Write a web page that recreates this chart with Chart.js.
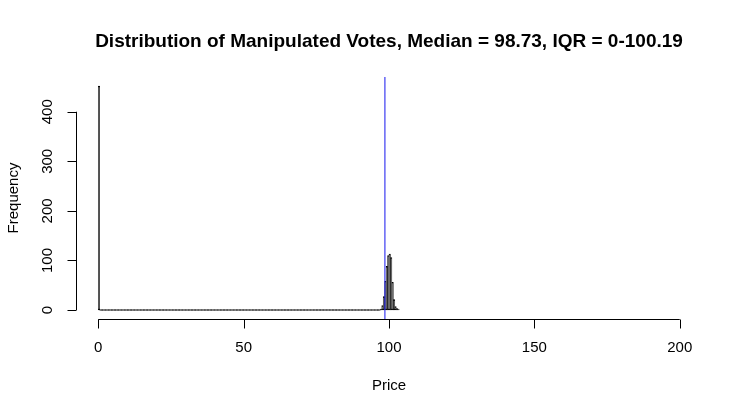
<!DOCTYPE html>
<html>
<head>
<meta charset="utf-8">
<script src="https://cdn.jsdelivr.net/npm/chart.js@4.4.1/dist/chart.umd.min.js"></script>
<style>
  html, body { margin: 0; padding: 0; background: #ffffff; }
  #wrap { width: 744px; height: 417px; }
</style>
</head>
<body>
<div id="wrap"><canvas id="histChart" width="744" height="417"></canvas></div>
<script>
// Histogram bins: width 0.5, first break at 0
const binWidth = 0.5;
const firstBreak = 0;

// Counts per bin (0-0.5, 0.5-1, ... 103-103.5)
const counts = [
  452, 0, 0, 0, 0, 0, 0, 0, 0, 0, 0, 0, 0, 0, 0, 0, 0, 0, 0, 0,
  0, 0, 0, 0, 0, 0, 0, 0, 0, 0, 0, 0, 0, 0, 0, 0, 0, 0, 0, 0,
  0, 0, 0, 0, 0, 0, 0, 0, 0, 0, 0, 0, 0, 0, 0, 0, 0, 0, 0, 0,
  0, 0, 0, 0, 0, 0, 0, 0, 0, 0, 0, 0, 0, 0, 0, 0, 0, 0, 0, 0,
  0, 0, 0, 0, 0, 0, 0, 0, 0, 0, 0, 0, 0, 0, 0, 0, 0, 0, 0, 0,
  0, 0, 0, 0, 0, 0, 0, 0, 0, 0, 0, 0, 0, 0, 0, 0, 0, 0, 0, 0,
  0, 0, 0, 0, 0, 0, 0, 0, 0, 0, 0, 0, 0, 0, 0, 0, 0, 0, 0, 0,
  0, 0, 0, 0, 0, 0, 0, 0, 0, 0, 0, 0, 0, 0, 0, 0, 0, 0, 0, 0,
  0, 0, 0, 0, 0, 0, 0, 0, 0, 0, 0, 0, 0, 0, 0, 0, 0, 0, 0, 0,
  0, 0, 0, 0, 0, 0, 0, 0, 0, 0, 0, 0, 0, 0, 1, 9, 27, 58, 88, 110,
  113, 106, 56, 21, 7, 3, 1
];

// Axis ticks
const xTicks = [0, 50, 100, 150, 200];
const yTicks = [0, 100, 200, 300, 400];

// Summary shown in the title and as the vertical line
const median = 98.73;
const iqrLow = 0;
const iqrHigh = 100.19;

const titleText = 'Distribution of Manipulated Votes, Median = ' + median + ', IQR = ' + iqrLow + '-' + iqrHigh;
const xLabel = 'Price';
const yLabel = 'Frequency';

// R style plot region: limits stretched by 4%
const xMin = 0, xMax = 200;
const yMax = Math.max(...counts);
const xPad = (xMax - xMin) * 0.04;
const yPad = yMax * 0.04;

// bin midpoints for the bars
const points = counts.map((c, i) => ({ x: firstBreak + binWidth * i + binWidth / 2, y: c }));

const FONT = '"Liberation Sans", Arial, Helvetica, sans-serif';

// Draws title, axes (R style), labels and the median line
const rDecor = {
    id: 'rDecor',
    afterDatasetsDraw(chart) {
        const ctx = chart.ctx;
        const area = chart.chartArea;
        const xs = chart.scales.x;
        const ys = chart.scales.y;
        ctx.save();

        // median line, like abline(v = median, col = 'blue')
        const mx = xs.getPixelForValue(median) - 0.4;
        ctx.strokeStyle = '#2b2bf0';
        ctx.lineWidth = 1.1;
        ctx.beginPath();
        ctx.moveTo(mx, area.top);
        ctx.lineTo(mx, area.bottom);
        ctx.stroke();

        ctx.strokeStyle = '#000000';
        ctx.fillStyle = '#000000';
        ctx.lineWidth = 1;

        // x axis
        const axY = Math.round(area.bottom) + 0.5;
        const x0 = xs.getPixelForValue(xTicks[0]);
        const x1 = xs.getPixelForValue(xTicks[xTicks.length - 1]);
        ctx.beginPath();
        ctx.moveTo(x0, axY);
        ctx.lineTo(x1, axY);
        xTicks.forEach(t => {
            const px = Math.round(xs.getPixelForValue(t)) + 0.5;
            ctx.moveTo(px, axY);
            ctx.lineTo(px, axY + 9);
        });
        ctx.stroke();

        ctx.font = '15px ' + FONT;
        ctx.textAlign = 'center';
        ctx.textBaseline = 'middle';
        xTicks.forEach(t => {
            ctx.fillText(String(t), xs.getPixelForValue(t), 348);
        });

        // y axis
        const axX = Math.round(area.left) + 1.5;
        const y0 = ys.getPixelForValue(yTicks[0]);
        const y1 = ys.getPixelForValue(yTicks[yTicks.length - 1]);
        ctx.beginPath();
        ctx.moveTo(axX, y0);
        ctx.lineTo(axX, y1);
        yTicks.forEach(t => {
            const py = Math.round(ys.getPixelForValue(t)) + 0.5;
            ctx.moveTo(axX, py);
            ctx.lineTo(axX - 9, py);
        });
        ctx.stroke();

        yTicks.forEach(t => {
            ctx.save();
            ctx.translate(48, ys.getPixelForValue(t));
            ctx.rotate(-Math.PI / 2);
            ctx.fillText(String(t), 0, 0);
            ctx.restore();
        });

        // axis titles
        ctx.fillText(xLabel, (area.left + area.right) / 2, 386);
        ctx.save();
        ctx.translate(14, (area.top + area.bottom) / 2);
        ctx.rotate(-Math.PI / 2);
        ctx.fillText(yLabel, 0, 0);
        ctx.restore();

        // main title
        ctx.font = 'bold 19px ' + FONT;
        ctx.fillText(titleText, (area.left + area.right) / 2, 42);

        ctx.restore();
    }
};

const histCtx = document.getElementById('histChart').getContext('2d');
const histChart = new Chart(histCtx, {
    type: 'bar',
    data: {
        datasets: [{
            label: 'Frequency',
            data: points,
            backgroundColor: '#555555',
            borderColor: '#000000',
            borderWidth: 1,
            borderSkipped: false,
            minBarLength: 1,
            barPercentage: 1,
            categoryPercentage: 1
        }]
    },
    options: {
        responsive: false,
        animation: false,
        devicePixelRatio: 1,
        layout: {
            padding: { left: 75, right: 41, top: 77, bottom: 98 }
        },
        plugins: {
            legend: { display: false },
            tooltip: { enabled: false },
            title: { display: false }
        },
        scales: {
            x: {
                type: 'linear',
                display: false,
                offset: false,
                min: xMin - xPad,
                max: xMax + xPad
            },
            y: {
                type: 'linear',
                display: false,
                min: -yPad,
                max: yMax + yPad
            }
        }
    },
    plugins: [rDecor]
});
</script>
</body>
</html>
